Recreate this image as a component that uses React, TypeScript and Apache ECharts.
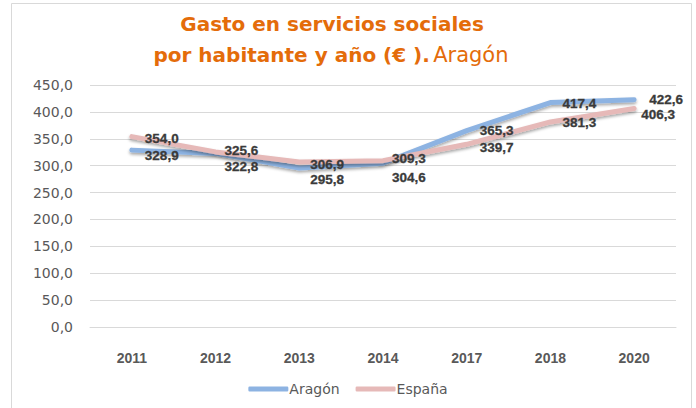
import React, { useEffect, useRef } from "react";
import * as echarts from "echarts";

const years = ["2011", "2012", "2013", "2014", "2017", "2018", "2020"];
const aragon = [328.9, 322.8, 295.8, 304.6, 365.3, 417.4, 422.6];
const espana = [354.0, 325.6, 306.9, 309.3, 339.7, 381.3, 406.3];
const seriesNames = ["Aragón", "España"];

const fmt = (v: number) => v.toFixed(1).replace(".", ",");

export default function App() {
  const ref = useRef<HTMLDivElement>(null);
  useEffect(() => {
    if (!ref.current) return;
    const chart = echarts.init(ref.current, undefined, { renderer: "svg" });
    const aragonOffsets: Record<number, [number, number]> = {
      0: [4, 5],
      1: [0, 13],
      2: [2, 12],
      3: [0, 14],
      4: [4, 0],
      5: [3, 1],
      6: [6, 0],
    };
    const espanaOffsets: Record<number, [number, number]> = {
      0: [4, 2],
      1: [0, -1],
      2: [2, 3],
      3: [0, -2],
      4: [4, 3],
      5: [3, 1],
      6: [-2, 6],
    };
    const labelBase = {
      show: true,
      position: "right",
      distance: 9,
      color: "#3a3a3a",
      opacity: 1,
      fontWeight: "bold",
      fontSize: 13.5,
      fontFamily: "Liberation Sans, Arial, sans-serif",
      textBorderColor: "#3a3a3a",
      textBorderWidth: 0.3,
      formatter: (p: any) => fmt(p.value),
    };
    const mk = (vals: number[], offs: Record<number, [number, number]>) =>
      vals.map((v, i) => ({ value: v, label: { offset: offs[i] } }));
    const lineSeries = (name: string, vals: number[], color: string, z: number) => ({
      name,
      type: "line",
      data: vals,
      symbol: "none",
      color,
      itemStyle: { color },
      lineStyle: {
        width: 5,
        color,
        cap: "round",
        join: "round",
        shadowColor: "rgba(0,0,0,0.35)",
        shadowBlur: 3,
        shadowOffsetY: 2,
      },
      z,
    });
    const labelSeries = (vals: number[], offs: Record<number, [number, number]>) => ({
      name: "_labels",
      type: "scatter",
      data: mk(vals, offs),
      symbol: "circle",
      symbolSize: 0,
      itemStyle: { color: "#3a3a3a" },
      label: labelBase,
      silent: true,
      z: 10,
    });
    chart.setOption({
      animation: false,
      grid: { left: 90, right: 20, top: 85, bottom: 81 },
      graphic: [
        {
          type: "rect",
          shape: { x: 11.5, y: 3.5, width: 680, height: 420 },
          style: { fill: "none", stroke: "#d9d9d9", lineWidth: 1 },
          silent: true,
        },
        {
          type: "text",
          x: 332,
          y: 24,
          style: {
            text: "Gasto en servicios sociales",
            fill: "#E46C0A",
            font: "bold 20px 'DejaVu Sans', sans-serif",
            align: "center",
            verticalAlign: "middle",
          },
        },
        {
          type: "text",
          x: 331,
          y: 55,
          style: {
            text: "{b|por habitante y año (€ ).} {n|Aragón}",
            align: "center",
            verticalAlign: "middle",
            rich: {
              b: {
                fill: "#E46C0A",
                color: "#E46C0A",
                fontWeight: "bold",
                fontSize: 20,
                fontFamily: "DejaVu Sans, sans-serif",
              },
              n: {
                fill: "#E46C0A",
                color: "#E46C0A",
                fontWeight: "normal",
                fontSize: 21,
                fontFamily: "DejaVu Sans, sans-serif",
              },
            },
          },
        },
      ],
      legend: {
        bottom: 7,
        left: "center",
        itemWidth: 40,
        itemHeight: 5,
        itemGap: 16,
        icon: "roundRect",
        textStyle: {
          color: "#595959",
          fontSize: 14,
          fontFamily: "DejaVu Sans, sans-serif",
          padding: [0, 0, 0, -4],
        },
        data: seriesNames,
      },
      xAxis: {
        type: "category",
        data: years,
        boundaryGap: true,
        axisLine: { show: true, lineStyle: { color: "#d9d9d9", width: 1 } },
        axisTick: { show: false },
        axisLabel: {
          color: "#595959",
          fontWeight: "bold",
          fontSize: 14,
          fontFamily: "Liberation Sans, Arial, sans-serif",
          margin: 24,
        },
      },
      yAxis: {
        type: "value",
        min: 0,
        max: 450,
        interval: 50,
        axisLine: { show: false },
        axisTick: { show: false },
        splitLine: { lineStyle: { color: "#d9d9d9", width: 1 } },
        axisLabel: {
          color: "#595959",
          fontSize: 14,
          fontFamily: "DejaVu Sans, sans-serif",
          margin: 17,
          formatter: (v: number) => fmt(v),
        },
      },
      series: [
        lineSeries(seriesNames[0], aragon, "#8DB3E2", 3),
        lineSeries(seriesNames[1], espana, "#E6B9B8", 4),
        labelSeries(aragon, aragonOffsets),
        labelSeries(espana, espanaOffsets),
      ],
    });
    return () => chart.dispose();
  }, []);
  return (
    <div
      ref={ref}
      style={{ position: "absolute", left: 0, top: 0, width: 696, height: 408 }}
    />
  );
}
